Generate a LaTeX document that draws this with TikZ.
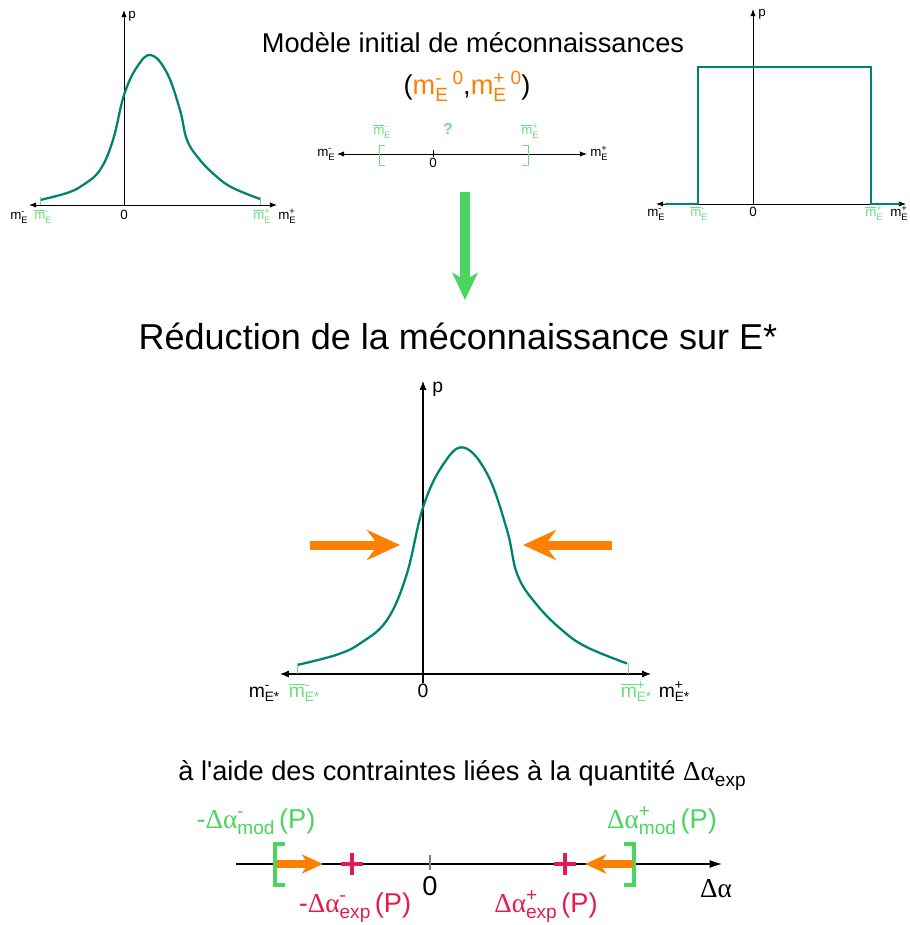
\documentclass[tikz,border=0pt]{standalone}
\usepackage{fontspec}
\setmainfont{Liberation Sans}
\newfontfamily\grec{Liberation Serif}
\usetikzlibrary{arrows.meta,positioning}

\definecolor{courbe}{RGB}{0,130,112}
\definecolor{vertclair}{RGB}{110,222,125}
\definecolor{vertvif}{RGB}{75,212,95}
\definecolor{orangef}{RGB}{255,128,0}
\definecolor{rouge}{RGB}{228,28,78}

% exposant au-dessus de l'indice
\newcommand{\ix}[2]{\rlap{\raisebox{0.75ex}{\scalebox{0.7}{#1}}}\raisebox{-0.45ex}{\scalebox{0.7}{#2}}}
\newcommand{\mb}{\ensuremath{\overline{\hbox{m}}}}
\newcommand{\da}{{\grec Δα}}

\tikzset{
  cloche/.pic={
    \draw[courbe, line width=1.3pt] plot[smooth, tension=0.65] coordinates {(0,0) (27,-7) (43,-15) (60,-30) (73,-60) (84,-105) (97,-133) (111,-145) (127,-127) (140,-90) (147,-60) (160,-40) (177,-23) (193,-12) (220,-1)};
  },
  petit/.style={font=\fontsize{7.6}{9}\selectfont, inner sep=0pt, anchor=base},
  moyen/.style={font=\fontsize{11}{12}\selectfont, inner sep=0pt, anchor=base},
  grand/.style={font=\fontsize{15.5}{17}\selectfont, inner sep=0pt, anchor=base},
  fl/.style={line width=0.5pt, -{Latex[length=4pt,width=3pt]}},
  flfl/.style={line width=0.5pt, {Latex[length=4pt,width=3pt]}-{Latex[length=4pt,width=3pt]}},
  flm/.style={line width=0.6pt, {Latex[length=5pt,width=4pt]}-{Latex[length=5pt,width=4pt]}},
}

\begin{document}
\begin{tikzpicture}[x=0.02cm, y=-0.02cm]
  \useasboundingbox (0,0) rectangle (909,925);

  % Loi en cloche, en haut a gauche
  \coordinate (o1) at (124,205);
  \coordinate (p1) at (124,10);
  \coordinate (g1) at (29,205);
  \coordinate (d1) at (277,205);
  \draw[flfl] (g1) -- (d1);
  \draw[fl] (o1) -- (p1);
  \pic at (40,200) {cloche};
  \draw[vertclair] (40,197) -- (40,205);
  \draw[vertclair] (260,197) -- (260,205);
  \node[petit, anchor=base west] (lp1) at (128,19) {p};
  \node[petit] (a1) at (19,220) {m\ix{-}{E}};
  \node[petit, text=vertclair] (b1) at (43,220) {\mb\ix{-}{E}};
  \node[petit] (z1) at (124,220) {0};
  \node[petit, text=vertclair] (c1) at (262,220) {\mb\ix{+}{E}};
  \node[petit] (e1) at (287,220) {m\ix{+}{E}};

  % Loi uniforme, en haut a droite
  \coordinate (o2) at (753,204);
  \coordinate (p2) at (753,9);
  \coordinate (g2) at (656,204);
  \coordinate (d2) at (906,204);
  \draw[flfl] (g2) -- (d2);
  \draw[fl] (o2) -- (p2);
  \draw[courbe, line width=1.3pt] (665,204) -- (698,204) -- (698,67) -- (871,67) -- (871,204) -- (900,204);
  \node[petit, anchor=base west] (lp2) at (758,17) {p};
  \node[petit] (a2) at (656,217) {m\ix{-}{E}};
  \node[petit, text=vertclair] (b2) at (699,217) {\mb\ix{-}{E}};
  \node[petit] (z2) at (753,217) {0};
  \node[petit, text=vertclair] (c2) at (874,217) {\mb\ix{+}{E}};
  \node[petit, anchor=base east] (e2) at (908,217) {m\ix{+}{E}};

  % Modele initial
  \node[anchor=base, inner sep=0pt, font=\fontsize{15.5}{17}\selectfont] (t1) at (473,53) {Mod\`ele initial de m\'econnaissances};
  \node[anchor=base, inner sep=0pt, font=\fontsize{15.5}{17}\selectfont] (t2) at (467,95)
    {(\textcolor{orangef}{m\ix{-}{E}\,\raisebox{0.75ex}{\scalebox{0.7}{0}}},\textcolor{orangef}{m\ix{+}{E}\,\raisebox{0.75ex}{\scalebox{0.7}{0}}})};
  \coordinate (g0) at (337,154);
  \coordinate (d0) at (587,154);
  \draw[flfl] (g0) -- (d0);
  \draw (433,150) -- (433,157);
  \draw[vertclair] (385,145) -- (379,145) -- (379,165) -- (385,165);
  \draw[vertclair] (522,145) -- (528,145) -- (528,165) -- (522,165);
  \node[petit, anchor=base east] (a0) at (335,157) {m\ix{-}{E}};
  \node[petit, anchor=base west] (e0) at (590,157) {m\ix{+}{E}};
  \node[petit] (z0) at (433,168) {0};
  \node[petit, text=vertclair] (b0) at (382,135) {\mb\ix{-}{E}};
  \node[petit, text=vertclair, font=\fontsize{9}{10}\selectfont\bfseries] (q0) at (448,135) {?};
  \node[petit, text=vertclair] (c0) at (530,135) {\mb\ix{+}{E}};

  % Fleche verte
  \coordinate (h) at (465,192);
  \coordinate (k) at (465,300);
  \draw[vertvif, line width=0.2cm, -{Stealth[length=0.54cm, width=0.5cm, inset=0.14cm]}] (h) -- (k);

  \node[anchor=base, inner sep=0pt, font=\fontsize{20.5}{23}\selectfont] (t3) at (458,350) {R\'eduction de la m\'econnaissance sur E*};

  % Loi en cloche reduite
  \coordinate (o3) at (423,683);
  \coordinate (p3) at (423,381);
  \coordinate (g3) at (280,674);
  \coordinate (d3) at (651,674);
  \draw[flm] (g3) -- (d3);
  \draw[line width=0.6pt, -{Latex[length=5pt,width=4pt]}] (o3) -- (p3);
  \pic[scale=1.5] at (297,665) {cloche};
  \draw[vertclair] (297,663) -- (297,674);
  \draw[vertclair] (628,663) -- (628,674);
  \node[moyen, anchor=base west] (lp3) at (432,392) {p};
  \node[moyen] (a3) at (264,697) {m\ix{-}{E*}};
  \node[moyen, text=vertclair] (b3) at (304,697) {\mb\ix{-}{E*}};
  \node[moyen] (z3) at (423,697) {0};
  \node[moyen, text=vertclair] (c3) at (636,697) {\mb\ix{+}{E*}};
  \node[moyen] (e3) at (674,697) {m\ix{+}{E*}};

  % Fleches de reduction
  \coordinate (u1) at (310,545);
  \coordinate (v1) at (400,545);
  \coordinate (u2) at (612,545);
  \coordinate (v2) at (523,545);
  \draw[orangef, line width=0.18cm, -{Stealth[length=0.66cm, width=0.6cm, inset=0.22cm]}] (u1) -- (v1);
  \draw[orangef, line width=0.18cm, -{Stealth[length=0.66cm, width=0.6cm, inset=0.22cm]}] (u2) -- (v2);

  % Contraintes
  \node[anchor=base, inner sep=0pt, font=\fontsize{15.5}{17}\selectfont] (t4) at (462,780) {\`a l\textquotesingle aide des contraintes li\'ees \`a la quantit\'e \da\raisebox{-0.45ex}{\scalebox{0.7}{exp}}};
  \coordinate (g4) at (236,864);
  \coordinate (d4) at (722,864);
  \draw[line width=0.6pt, -{Latex[length=7pt,width=4.5pt]}] (g4) -- (d4);
  \draw[gray, line width=0.8pt] (430,855) -- (430,870);
  \draw[vertvif, line width=1.8pt] (285,844) -- (275,844) -- (275,885) -- (285,885);
  \draw[vertvif, line width=1.8pt] (624,844) -- (634,844) -- (634,885) -- (624,885);
  \coordinate (u3) at (277,864);
  \coordinate (v3) at (323,864);
  \coordinate (u4) at (633,864);
  \coordinate (v4) at (585,864);
  \draw[orangef, line width=0.15cm, -{Stealth[length=0.42cm, width=0.38cm, inset=0.12cm]}] (u3) -- (v3);
  \draw[orangef, line width=0.15cm, -{Stealth[length=0.42cm, width=0.38cm, inset=0.12cm]}] (u4) -- (v4);
  \foreach \xx in {352,565} {
    \draw[rouge, line width=2.2pt] (\xx-11,864) -- (\xx+11,864) (\xx,853) -- (\xx,875);
  }
  \node[grand] (z4) at (430,895) {0};
  \node[grand] (da) at (716,897) {\da};
  \node[grand, text=vertvif] (m1) at (256,828) {-\da\ix{-}{mod}\,(P)};
  \node[grand, text=vertvif] (m2) at (662,828) {\da\ix{+}{mod}\,(P)};
  \node[grand, text=rouge] (x1) at (355,912) {-\da\ix{-}{exp}\,(P)};
  \node[grand, text=rouge] (x2) at (546,912) {\da\ix{+}{exp}\,(P)};
\end{tikzpicture}
\end{document}
